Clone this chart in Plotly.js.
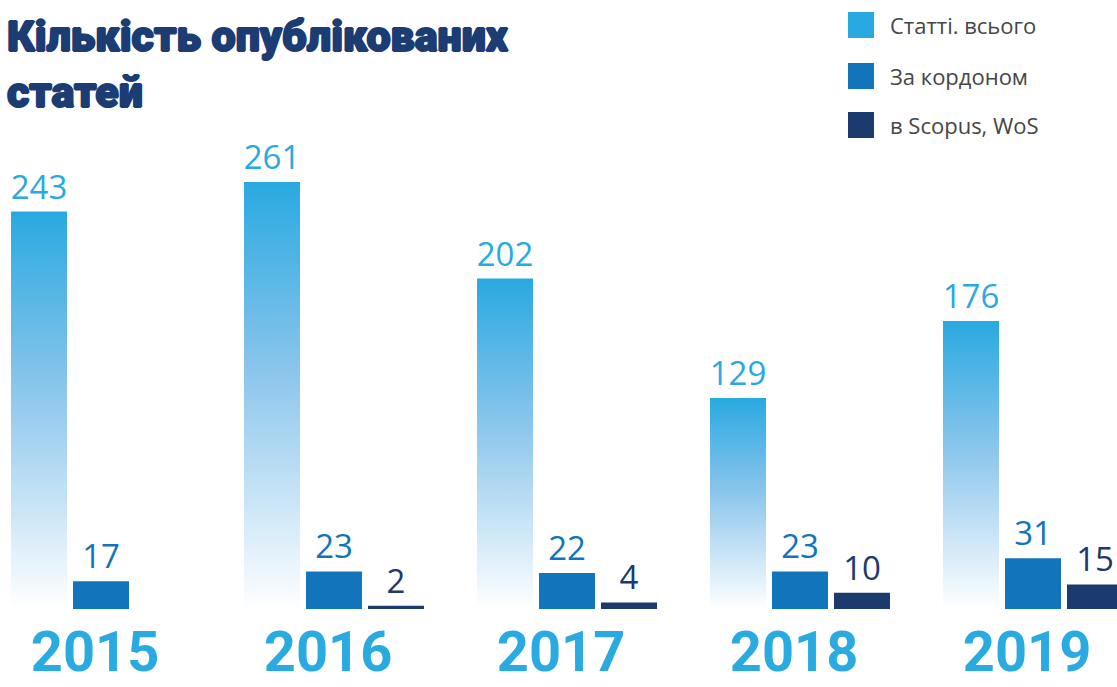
<!DOCTYPE html>
<html>
<head>
<meta charset="utf-8">
<script src="https://cdn.plot.ly/plotly-3.0.1.min.js"></script>
<style>
html,body{margin:0;padding:0;background:#fff;}
#chart{width:1117px;height:687px;}
</style>
</head>
<body>
<div id="chart"></div>
<script>
// ---- data ----
const years = ["2015", "2016", "2017", "2018", "2019"];
const seriesNames = ["Статті. всього", "За кордоном", "в Scopus, WoS"];
const totalArticles = [243, 261, 202, 129, 176];
const abroadArticles = [17, 23, 22, 23, 31];
const scopusWos = [null, 2, 4, 10, 15];
const chartTitle = "Кількість опублікованих<br>статей";

const colors = ["#29A9E1", "#1275BB", "#1B3A6D"];
const W = 1117, H = 687, B = 78;
const plotH = H - B;

function mkTrace(vals, i) {
  return {
    type: "bar",
    name: seriesNames[i],
    x: years,
    y: vals,
    marker: {color: colors[i], line: {width: 0}},
    text: vals.map(v => v == null ? "" : String(v)),
    textposition: "outside",
    constraintext: "none",
    cliponaxis: false,
    textfont: {family: "Open Sans", size: 33, color: colors[i]},
    hoverinfo: "x+y+name",
    showlegend: false
  };
}
const data = [mkTrace(totalArticles, 0), mkTrace(abroadArticles, 1), mkTrace(scopusWos, 2)];

// legend drawn as shapes + annotations (pixel positions converted to paper)
const px = x => x / W;
const py = y => (plotH - y) / plotH;
const legendTops = [12, 63, 112];
const shapes = legendTops.map((t, i) => ({
  type: "rect", xref: "paper", yref: "paper",
  x0: px(848), x1: px(874), y0: py(t + 26), y1: py(t),
  fillcolor: colors[i], line: {width: 0}
}));
const annotations = legendTops.map((t, i) => ({
  xref: "paper", yref: "paper", x: px(888), y: py(t + 13),
  xanchor: "left", yanchor: "middle", showarrow: false,
  text: seriesNames[i],
  font: {family: "Open Sans", size: 22, color: "#464646"}
}));
// chart title
const titleColor = "#1B3D73";
annotations.push({
  xref: "paper", yref: "paper", x: px(5), y: py(9),
  xanchor: "left", yanchor: "top", align: "left", showarrow: false,
  text: chartTitle,
  font: {
    family: "Roboto", size: 43, weight: 900, color: titleColor,
    shadow: `1px 0 0 ${titleColor}, -1px 0 0 ${titleColor}, 0 0.7px 0 ${titleColor}, 0 -0.7px 0 ${titleColor}`
  }
});

const layout = {
  width: W, height: H,
  margin: {l: 0, r: 0, t: 0, b: B, pad: 0},
  paper_bgcolor: "#ffffff", plot_bgcolor: "#ffffff",
  barmode: "group",
  bargap: 0.2017,
  bargroupgap: 0.0968,
  xaxis: {
    type: "category",
    range: [-0.4335, 4.3605],
    showgrid: false, zeroline: false, showline: false,
    ticks: "", ticklabelstandoff: 5, ticklabelshift: -6,
    tickfont: {family: "Roboto", size: 56, weight: "bold", color: "#29ABE2"},
    fixedrange: true
  },
  yaxis: {
    range: [0, 372.3],
    visible: false, showgrid: false, zeroline: false,
    fixedrange: true
  },
  shapes: shapes,
  annotations: annotations,
  showlegend: false
};

Plotly.newPlot("chart", data, layout, {displayModeBar: false, staticPlot: true}).then(gd => {
  const svg = gd.querySelector(".main-svg");
  const NS = "http://www.w3.org/2000/svg";
  let defs = svg.querySelector("defs");
  if (!defs) { defs = document.createElementNS(NS, "defs"); svg.insertBefore(defs, svg.firstChild); }
  const g = document.createElementNS(NS, "linearGradient");
  g.setAttribute("id", "totalGrad");
  g.setAttribute("x1", "0"); g.setAttribute("y1", "0");
  g.setAttribute("x2", "0"); g.setAttribute("y2", "1");
  [["0", "#29A9E1", 1], ["0.45", "#8CC6EC", 1], ["1", "#FFFFFF", 1]].forEach(s => {
    const st = document.createElementNS(NS, "stop");
    st.setAttribute("offset", s[0]);
    st.setAttribute("stop-color", s[1]);
    st.setAttribute("stop-opacity", s[2]);
    g.appendChild(st);
  });
  defs.appendChild(g);
  const traces = gd.querySelectorAll(".barlayer .trace");
  if (traces[0]) {
    traces[0].querySelectorAll(".point path").forEach(p => { p.style.fill = "url(#totalGrad)"; });
  }
});
</script>
</body>
</html>
